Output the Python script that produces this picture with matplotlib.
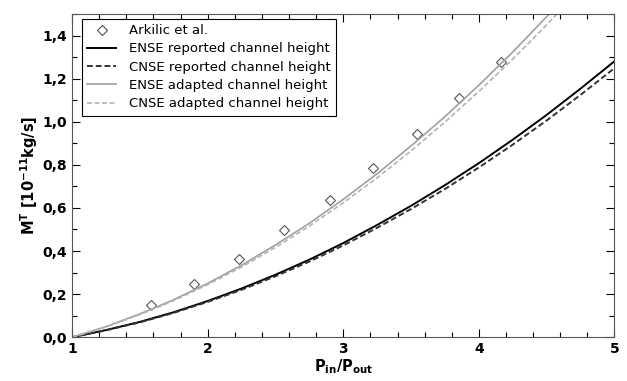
import matplotlib.pyplot as plt
from matplotlib.ticker import FuncFormatter, MultipleLocator

# pressure ratio grid
ratio = [1.0, 1.25, 1.5, 1.75, 2.0, 2.25, 2.5, 2.75, 3.0, 3.25, 3.5, 3.75, 4.0, 4.25, 4.5, 4.75, 5.0]

ense_reported = [0.0, 0.033, 0.071, 0.116, 0.168, 0.226, 0.290, 0.360, 0.437, 0.521, 0.610,
                 0.706, 0.808, 0.917, 1.032, 1.154, 1.281]
cnse_reported = [0.0, 0.032, 0.069, 0.113, 0.164, 0.220, 0.283, 0.351, 0.426, 0.508, 0.595,
                 0.688, 0.788, 0.894, 1.006, 1.125, 1.249]
ense_adapted = [0.0, 0.049, 0.108, 0.174, 0.250, 0.334, 0.428, 0.529, 0.640, 0.759, 0.888,
                1.024, 1.170, 1.324, 1.488, 1.659, 1.840]
cnse_adapted = [0.0, 0.048, 0.105, 0.170, 0.244, 0.326, 0.417, 0.516, 0.624, 0.740, 0.865,
                0.999, 1.141, 1.291, 1.450, 1.618, 1.794]

# Arkilic et al. measurements
exp_ratio = [1.58, 1.90, 2.23, 2.565, 2.90, 3.22, 3.54, 3.855, 4.16]
exp_flow = [0.149, 0.247, 0.363, 0.498, 0.637, 0.786, 0.944, 1.112, 1.279]

fig = plt.figure(figsize=(6.27, 3.81), dpi=100)
ax = fig.add_axes([0.115, 0.115, 0.865, 0.848])

ax.plot(exp_ratio, exp_flow, linestyle="none", marker="D", markersize=5.5,
        markerfacecolor="white", markeredgecolor="#555555", markeredgewidth=0.8,
        label="Arkilic et al.")
ax.plot(ratio, ense_reported, color="black", linewidth=1.4, label="ENSE reported channel height")
ax.plot(ratio, cnse_reported, color="#333333", linewidth=1.4, dashes=(3, 1.5),
        label="CNSE reported channel height")
ax.plot(ratio, ense_adapted, color="#a0a0a0", linewidth=1.2, label="ENSE adapted channel height")
ax.plot(ratio, cnse_adapted, color="#b4b4b4", linewidth=1.2, dashes=(3, 1.5),
        label="CNSE adapted channel height")

ax.set_xlim(1, 5)
ax.set_ylim(0, 1.5)
ax.xaxis.set_major_locator(MultipleLocator(1))
ax.xaxis.set_minor_locator(MultipleLocator(0.2))
ax.yaxis.set_major_locator(MultipleLocator(0.2))
ax.yaxis.set_minor_locator(MultipleLocator(0.1))
ax.xaxis.set_major_formatter(FuncFormatter(lambda v, p: f"{v:.0f}"))
ax.yaxis.set_major_formatter(FuncFormatter(lambda v, p: f"{v:.1f}".replace(".", ",")))
ax.tick_params(which="both", direction="in", top=True, right=True, width=0.8)
ax.tick_params(which="major", length=6, labelsize=10)
ax.tick_params(which="minor", length=3.5)
for lab in ax.get_xticklabels() + ax.get_yticklabels():
    lab.set_fontweight("bold")
for sp in ax.spines.values():
    sp.set_color("#555555")

ax.set_xlabel(r"P$_\mathbf{in}$/P$_\mathbf{out}$", fontsize=10.5, fontweight="bold", labelpad=1)
ax.set_ylabel(r"M$^\mathbf{T}$ [10$^\mathbf{-11}$kg/s]", fontsize=10.5, fontweight="bold", labelpad=2)

leg = ax.legend(loc="upper left", bbox_to_anchor=(0.018, 0.985), borderaxespad=0,
                fontsize=9.5, frameon=True, fancybox=False, edgecolor="black", framealpha=1,
                handlelength=2.2, borderpad=0.4, labelspacing=0.4, handletextpad=1.0)
leg.get_frame().set_linewidth(0.8)

fig.savefig("out.png", dpi=100)
